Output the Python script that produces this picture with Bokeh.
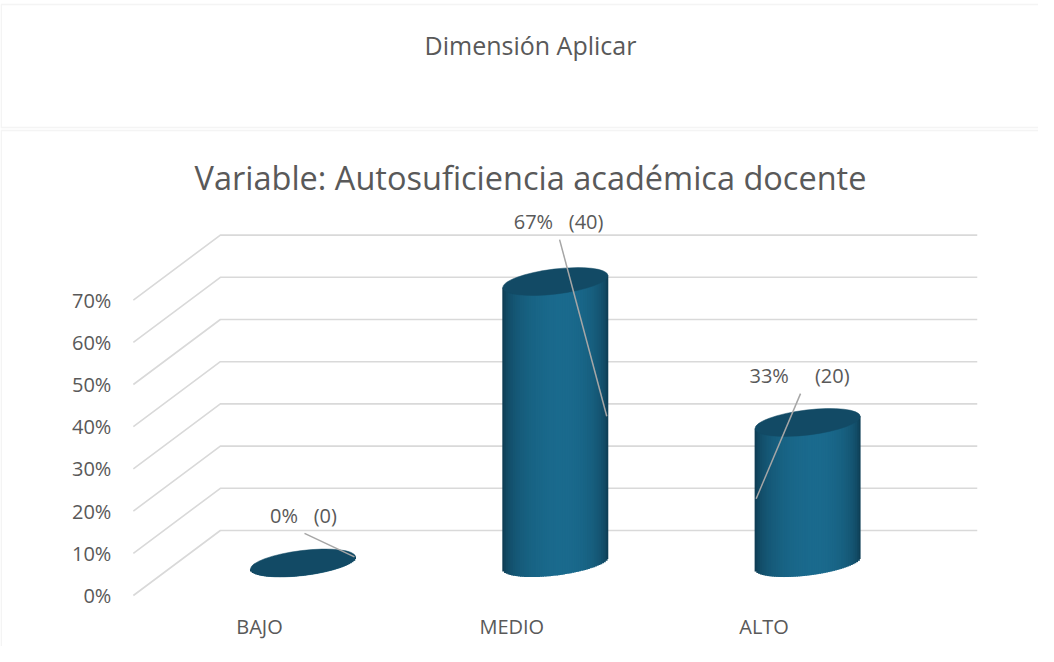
import numpy as np
from bokeh.plotting import figure
from bokeh.models import Range1d, BoxAnnotation
from bokeh.core.properties import value
from bokeh.embed import file_html
from bokeh.resources import INLINE

# ---------------- data ----------------
categories = ["BAJO", "MEDIO", "ALTO"]
percentages = [0.0, 66.7, 33.3]
counts = [0, 40, 20]
y_ticks = [0, 10, 20, 30, 40, 50, 60, 70]
y_tick_labels = ["0%", "10%", "20%", "30%", "40%", "50%", "60%", "70%"]
box_title = "Dimensión Aplicar"
chart_title = "Variable: Autosuficiencia académica docente"

# ---------------- layout / style ----------------
W, H = 1038, 646
PX_PER_CAT = 252.3          # screen px per category step
PX_PER_PCT = 4.22           # screen px per percent
X_ORIGIN_PX = 259.0         # screen x of category 0 (front plane)
Y_ORIGIN_PX = 595.0         # screen y (from top) of 0 % (front plane)
FONT = value("Open Sans")
TXT = "#595959"
GRID = "#d9d9d9"


def dxp(px):
    return px / PX_PER_CAT


def dyp(px):
    return px / PX_PER_PCT


def sx(px):
    return (px - X_ORIGIN_PX) / PX_PER_CAT


def sy(py):
    return (Y_ORIGIN_PX - py) / PX_PER_PCT


DEPTH_DX = dxp(87)
DEPTH_DY = dyp(65)
CYL_W = 0.42
CYL_B = dyp(12.5)
TILT = 0.12
LABEL_OFFSET = [(0.002, 11.3), (0.013, 14.2), (-0.032, 11.1)]
LABEL_GAPS = [3, 3, 5]
LEADER_SIDE = [1, 1, -1]

p = figure(width=W, height=H,
           x_range=Range1d(sx(0), sx(W)), y_range=Range1d(sy(H), sy(0)),
           output_backend="svg", toolbar_location=None,
           x_axis_location=None, y_axis_location=None,
           min_border=0, outline_line_color=None)
p.grid.visible = False
p.background_fill_color = "white"
p.border_fill_color = "white"

# boxes
p.add_layout(BoxAnnotation(left=sx(0.75), right=sx(W + 10), top=sy(4), bottom=sy(127),
                           fill_color=None, line_color=GRID, line_width=1.6))
p.add_layout(BoxAnnotation(left=sx(0.75), right=sx(W + 10), top=sy(130), bottom=sy(H + 10),
                           fill_color=None, line_color=GRID, line_width=1.6))

# titles
p.text(x=[sx(530)], y=[sy(44)], text=[box_title], text_font=FONT, text_font_size="25px",
       text_color=TXT, text_align="center", text_baseline="middle")
p.text(x=[sx(530)], y=[sy(177)], text=[chart_title], text_font=FONT, text_font_size="32.5px",
       text_color=TXT, text_align="center", text_baseline="middle")

# 3-D gridlines
n = len(categories)
left = -0.5
right = n - 0.5
gxs = [[left, left + DEPTH_DX, right + DEPTH_DX] for t in y_ticks]
gys = [[t, t + DEPTH_DY, t + DEPTH_DY] for t in y_ticks]
p.multi_line(xs=gxs, ys=gys, line_color=GRID, line_width=1.6)

# y tick labels
p.text(x=[left - dxp(22)] * len(y_ticks), y=y_ticks, text=y_tick_labels, text_font=FONT,
       text_font_size="20px", text_color=TXT, text_align="right", text_baseline="middle")

# category labels
p.text(x=list(range(n)), y=[-dyp(31)] * n, text=categories, text_font=FONT,
       text_font_size="20px", text_color=TXT, text_align="center", text_baseline="middle")

# cylinders (horizontal shading approximated with thin overlapping strips)
DARK = np.array([11, 50, 70], dtype=float)
BRIGHT = np.array([26, 106, 141], dtype=float)
PEAK = 0.15


def shade(u):
    t = (u - PEAK) / (1 + PEAK) if u < PEAK else (u - PEAK) / (1 - PEAK)
    f = max(0.0, 1 - t * t) ** 0.45
    c = DARK + (BRIGHT - DARK) * f
    return "#%02x%02x%02x" % tuple(int(round(v)) for v in c)


NSTRIP = 60
OVERLAP = dxp(1.0)
tilt_k = np.tan(TILT) * (CYL_W / 2 * PX_PER_CAT) / PX_PER_PCT
base = DEPTH_DY / 2
ql, qr, qt, qb, qc = [], [], [], [], []
ex, ey = [], []
for i, pct in enumerate(percentages):
    cx = i + DEPTH_DX / 2
    top = base + pct
    edges = np.linspace(-1, 1, NSTRIP + 1)
    for k in range(NSTRIP):
        u0, u1 = edges[k], edges[k + 1]
        um = (u0 + u1) / 2
        ql.append(cx + u0 * CYL_W / 2)
        qr.append(cx + u1 * CYL_W / 2 + (OVERLAP if k < NSTRIP - 1 else 0))
        qb.append(base + tilt_k * um - CYL_B * np.sqrt(max(0.0, 1 - um * um)))
        qt.append(top + tilt_k * um)
        qc.append(shade(um))
    ex.append(cx)
    ey.append(top)

p.quad(left=ql, right=qr, top=qt, bottom=qb, fill_color=qc, line_color=None)
p.ellipse(x=ex, y=ey, width=CYL_W, height=2 * CYL_B, angle=TILT,
          fill_color="#124a65", line_color="#124a65", line_width=0.5)

# data labels + leader lines
nb = "\u00a0"
lx, ly, lt = [], [], []
sx0, sy0, sx1, sy1 = [], [], [], []
for i, (pct, cnt) in enumerate(zip(percentages, counts)):
    cx = i + DEPTH_DX / 2
    top = base + pct
    ox, oy = LABEL_OFFSET[i]
    lx.append(cx + ox)
    ly.append(top + oy)
    lt.append(f"{round(pct)}%" + nb * LABEL_GAPS[i] + f"({cnt})")
    sx0.append(cx + ox + 0.004)
    sy0.append(top + oy - dyp(18))
    side = LEADER_SIDE[i]
    sx1.append(cx + side * (CYL_W / 2 - 0.006))
    sy1.append(base + pct / 2 + side * tilt_k * 0.95)

p.segment(x0=sx0, y0=sy0, x1=sx1, y1=sy1, line_color="#a6a6a6", line_width=1.5)
p.text(x=lx, y=ly, text=lt, text_font=FONT, text_font_size="20px", text_color=TXT,
       text_align="center", text_baseline="middle")

open("out.html", "w").write(file_html(p, INLINE))
